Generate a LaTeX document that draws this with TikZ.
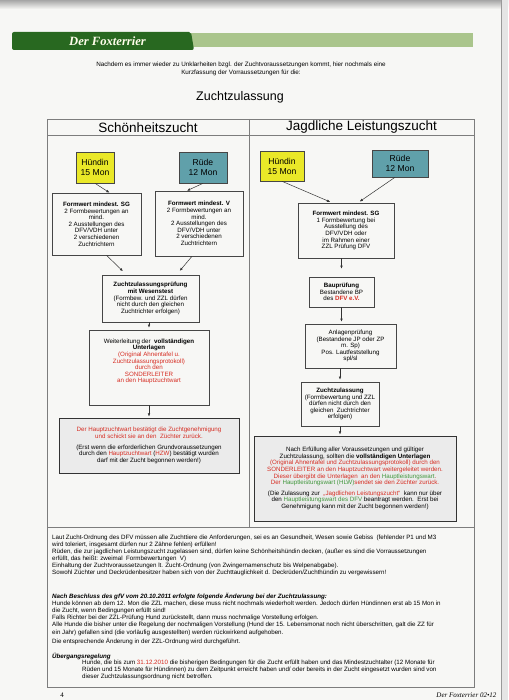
\documentclass[tikz,border=0pt]{standalone}
\usepackage{fontspec}
\setmainfont{Liberation Sans}
\newfontfamily\headserif{Liberation Serif}
\usepackage{tikz}
\usetikzlibrary{positioning,arrows.meta}
\definecolor{paper}{RGB}{247,247,245}
\definecolor{headgreen}{RGB}{40,104,32}
\definecolor{bargreen}{RGB}{170,197,140}
\definecolor{huendyellow}{RGB}{234,232,40}
\definecolor{ruedeteal}{RGB}{96,160,170}
\definecolor{zuchtred}{RGB}{214,44,34}
\definecolor{hlwgreen}{RGB}{64,150,60}
\definecolor{boxline}{RGB}{70,70,70}
\definecolor{tableline}{RGB}{125,125,125}
\tikzset{
  sexbox/.style={draw=boxline, line width=0.6pt, align=center,
                 font=\fontsize{8.6}{10}\selectfont, inner sep=1pt},
  stepbox/.style={draw=boxline, line width=0.6pt, align=center,
                  font=\fontsize{6.2}{6.6}\selectfont, inner sep=1pt},
  notebox/.style={draw=black!80, line width=0.9pt, fill=black!8, align=center,
                  font=\fontsize{6.2}{6.6}\selectfont, inner sep=1pt},
  colhead/.style={font=\fontsize{13.5}{14}\selectfont, inner sep=0pt},
  rulestext/.style={align=left, anchor=north west, inner sep=0pt},
  arr/.style={-{Latex[length=3.2pt,width=2.6pt]}, line width=0.5pt, black!80}
}

\begin{document}
\begin{tikzpicture}[x=1pt,y=-1pt]
  % page
  \useasboundingbox (0,0) rectangle (508,700);
  \fill[paper] (0,0) rectangle (508,700);
  \shade[top color=black!35, bottom color=paper] (0,0) rectangle (508,9);
  \fill[black!10] (501,0) rectangle (508,700);
  \draw[black!40, line width=0.6pt] (501,0) -- (501,700);

  % magazine header
  \fill[bargreen] (150,33.5) rectangle (473,47);
  \fill[headgreen, rounded corners=2pt] (12,32) -- (191,32) -- (194,50) -- (12,50) -- cycle;
  \node[font=\headserif\bfseries\itshape\fontsize{12.6}{13}\selectfont, text=white!92!yellow]
        (magtitle) at (107.5,41.5) {Der Foxterrier};

  % intro
  \node[align=center, font=\fontsize{6.3}{8}\selectfont] (intro) at (241,69)
        {Nachdem es immer wieder zu Unklarheiten bzgl. der Zuchtvoraussetzungen kommt, hier nochmals eine\\
         Kurzfassung der Vorraussetzungen für die:};
  \node[font=\fontsize{12.5}{13}\selectfont] (title) at (240,97) {Zuchtzulassung};

  % table
  \draw[tableline, line width=0.6pt] (47,119) rectangle (474,527);
  \draw[tableline, line width=0.6pt] (47,135) -- (474,135);
  \draw[tableline, line width=0.6pt] (249,119) -- (249,527);
  \draw[tableline, line width=0.6pt] (47,527) rectangle (474,687);
  \node[colhead] (schoen) at (148,127.5) {Schönheitszucht};
  \node[colhead] (jagd) at (361.5,127.5) {Jagdliche Leistungszucht};

  % Schoenheitszucht
  \node[sexbox, fill=huendyellow, minimum width=38pt, minimum height=31pt]
        (lhuendin) at (95,167.5) {Hündin\\15 Mon};
  \node[sexbox, fill=ruedeteal, minimum width=48pt, minimum height=31pt]
        (lruede) at (203,167.5) {Rüde\\12 Mon};
  \node[stepbox, minimum width=89pt, minimum height=62pt] (lsg) at (96.5,224)
        {\textbf{Formwert mindest. SG}\\2 Formbewertungen an\\mind.\\2 Ausstellungen des\\
         DFV/VDH unter\\2 verschiedenen\\Zuchtrichtern};
  \node[stepbox, minimum width=88pt, minimum height=65pt] (lv) at (199,223.5)
        {\textbf{Formwert mindest. V}\\2 Formbewertungen an\\mind.\\2 Ausstellungen des\\
         DFV/VDH unter\\2 verschiedenen\\Zuchtrichtern};
  \node[stepbox, minimum width=97pt, minimum height=47pt] (zzp) at (150.5,298.5)
        {\textbf{Zuchtzulassungsprüfung}\\\textbf{mit Wesenstest}\\(Formbew. und ZZL dürfen\\
         nicht durch den gleichen\\Zuchtrichter erfolgen)};
  \node[stepbox, minimum width=120pt, minimum height=75pt] (weit) at (149,367.5)
        {Weiterleitung der\ \ \textbf{vollständigen}\\\textbf{Unterlagen}\\
         \textcolor{zuchtred}{(Original Ahnentafel u.}\\\textcolor{zuchtred}{Zuchtzulassungsprotokoll)}\\
         \textcolor{zuchtred}{durch den}\\\textcolor{zuchtred}{SONDERLEITER}\\
         \textcolor{zuchtred}{an den Hauptzuchtwart}\\\mbox{}\\\mbox{}};
  \node[notebox, minimum width=180pt, minimum height=55pt] (hzw) at (149,445.5)
        {\textcolor{zuchtred}{Der Hauptzuchtwart bestätigt die Zuchtgenehmigung}\\
         \textcolor{zuchtred}{und schickt sie an den\ \ Züchter zurück.}\\[4pt]
         (Erst wenn die erforderlichen Grundvoraussetzungen\\
         durch den \textcolor{zuchtred}{Hauptzuchtwart} (\textcolor{zuchtred}{HZW}) bestätigt wurden\\
         darf mit der Zucht begonnen werden!)};

  \draw[arr] (lhuendin.south) -- ([xshift=13pt]lsg.north);
  \draw[arr] (lruede.south) -- ([xshift=-12pt]lv.north);
  \draw[arr, shorten >=5pt] ([xshift=10pt]lsg.south) -- ([xshift=-24pt]zzp.north);
  \draw[arr, shorten >=5pt] ([xshift=-7pt]lv.south) -- ([xshift=26pt]zzp.north);
  \draw[arr, shorten >=2pt] (zzp.south -| weit.north) -- (weit.north);
  \draw[arr, shorten >=1pt] (weit.south) -- (hzw.north);

  % Jagdliche Leistungszucht
  \node[sexbox, fill=huendyellow, minimum width=44pt, minimum height=30pt]
        (rhuendin) at (282,166) {Hündin\\15 Mon};
  \node[sexbox, fill=ruedeteal, minimum width=56pt, minimum height=27pt]
        (rruede) at (400,163.5) {Rüde\\12 Mon};
  \node[stepbox, minimum width=96pt, minimum height=55pt] (rsg) at (346,230.5)
        {\textbf{Formwert mindest. SG}\\1 Formbewertung bei\\Ausstellung des\\DFV/VDH oder\\
         im Rahmen einer\\ZZL Prüfung DFV};
  \node[stepbox, minimum width=65pt, minimum height=30pt] (bau) at (341.5,292)
        {\textbf{Bauprüfung}\\Bestandene BP\\des \textcolor{zuchtred}{\textbf{DFV e.V.}}};
  \node[stepbox, minimum width=91pt, minimum height=44pt] (anlage) at (350.5,346)
        {Anlagenprüfung\\(Bestandene JP oder ZP\\m. Sp)\\Pos. Lautfeststellung\\spl/sl};
  \node[stepbox, minimum width=78pt, minimum height=44pt] (rzzl) at (340,404)
        {\textbf{Zuchtzulassung}\\(Formbewertung und ZZL\\dürfen nicht durch den\\
         gleichen\ \ Zuchtrichter\\erfolgen)};
  \node[notebox, minimum width=202pt, minimum height=85pt] (final) at (355,478.5)
        {Nach Erfüllung aller Voraussetzungen und gültiger\\
         Zuchtzulassung, sollten die \textbf{vollständigen Unterlagen}\\
         \textcolor{zuchtred}{(Original Ahnentafel und Zuchtzulassungsprotokoll) durch den}\\
         \textcolor{zuchtred}{SONDERLEITER an den Hauptzuchtwart weitergeleitet werden.}\\
         \textcolor{zuchtred}{Dieser übergibt die Unterlagen\ \ an den }\textcolor{hlwgreen}{Hauptleistungswart}\textcolor{zuchtred}{.}\\
         \textcolor{zuchtred}{Der }\textcolor{hlwgreen}{Hauptleistungswart (HLW)}\textcolor{zuchtred}{ sendet sie den Züchter zurück.}\\[4pt]
         (Die Zulassung zur\ \ \textcolor{zuchtred}{„Jagdlichen Leistungszucht“}\ \ kann nur über\\
         den \textcolor{hlwgreen}{Hauptleistungswart des DFV} beantragt werden.\ \ Erst bei\\
         Genehmigung kann mit der Zucht begonnen werden!)};

  \draw[arr, shorten >=2pt] (rhuendin.south) -- ([xshift=-14pt]rsg.north);
  \draw[arr, shorten >=2pt] ([xshift=-5pt]rruede.south) -- ([xshift=12pt]rsg.north);
  \draw[arr, shorten >=8pt] (bau.north |- rsg.south) -- (bau.north);
  \draw[arr, shorten >=2pt] (bau.south) -- (bau.south |- anlage.north);
  \draw[arr, shorten >=2pt] (rzzl.north |- anlage.south) -- (rzzl.north);
  \draw[arr, shorten >=1pt] (rzzl.south) -- (rzzl.south |- final.north);

  % rules below the table
  \node[rulestext, font=\fontsize{6.2}{6.9}\selectfont] (rulesa) at (52,535)
        {Laut Zucht-Ordnung des DFV müssen alle Zuchttiere die Anforderungen, sei es an Gesundheit, Wesen sowie Gebiss\ \ (fehlender P1 und M3\\
         wird toleriert, insgesamt dürfen nur 2 Zähne fehlen) erfüllen!\\
         Rüden, die zur jagdlichen Leistungszucht zugelassen sind, dürfen keine Schönheitshündin decken, (außer es sind die Vorraussetzungen\\
         erfüllt, das heißt: zweimal\ \ Formbewertungen\ \ V)\\
         Einhaltung der Zuchtvoraussetzungen lt. Zucht-Ordnung (von Zwingernamenschutz bis Welpenabgabe).\\
         Sowohl Züchter und Deckrüdenbesitzer haben sich von der Zuchttauglichkeit d. Deckrüden/Zuchthündin zu vergewissern!};
  \node[rulestext, font=\fontsize{6.2}{7.2}\selectfont] (rulesb) at (52,592.5)
        {\textbf{\textit{Nach Beschluss des gfV vom 20.10.2011 erfolgte folgende Änderung bei der Zuchtzulassung:}}\\
         Hunde können ab dem 12. Mon die ZZL machen, diese muss nicht nochmals wiederholt werden. Jedoch dürfen Hündinnen erst ab 15 Mon in\\
         die Zucht, wenn Bedingungen erfüllt sind!\\
         Falls Richter bei der ZZL-Prüfung Hund zurückstellt, dann muss nochmalige Vorstellung erfolgen.\\
         Alle Hunde die bisher unter die Regelung der nochmaligen Vorstellung (Hund der 15. Lebensmonat noch nicht überschritten, galt die ZZ für\\
         ein Jahr) gefallen sind (die vorläufig ausgestellten) werden rückwirkend aufgehoben.\\[2pt]
         Die entsprechende Änderung in der ZZL-Ordnung wird durchgeführt.};
  \node[rulestext, font=\fontsize{6.2}{7}\selectfont] (uebergang) at (52,652.5)
        {\textbf{\textit{Übergangsregelung}}};
  \node[rulestext, font=\fontsize{6.2}{7}\selectfont] (uebergangtext) at (82,659.5)
        {Hunde, die bis zum \textcolor{zuchtred}{31.12.2010} die bisherigen Bedingungen für die Zucht erfüllt haben und das Mindestzuchtalter (12 Monate für\\
         Rüden und 15 Monate für Hündinnen) zu dem Zeitpunkt erreicht haben und/ oder bereits in der Zucht eingesetzt wurden sind von\\
         dieser Zuchtzulassungsordnung nicht betroffen.};

  % page footer
  \node[font=\headserif\fontsize{7}{8}\selectfont] (pagenum) at (62,695) {4};
  \node[font=\headserif\itshape\fontsize{7}{8}\selectfont, anchor=east] (issue) at (500,695)
        {Der Foxterrier 02•12};
\end{tikzpicture}
\end{document}
